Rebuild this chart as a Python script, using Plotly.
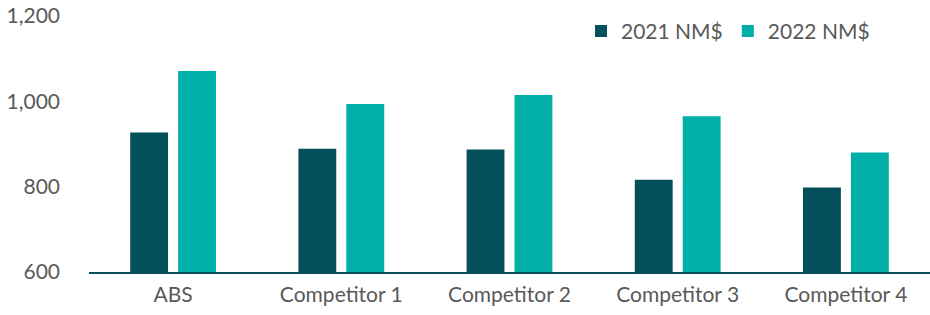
import plotly.graph_objects as go

categories = ["ABS", "Competitor 1", "Competitor 2", "Competitor 3", "Competitor 4"]
values_2021 = [927, 889, 887, 816, 798]
values_2022 = [1071, 994, 1015, 965, 880]
series_names = ["2021 NM$", "2022 NM$"]
y_ticks = [600, 800, 1000, 1200]

DARK = "#03505A"
TEAL = "#00B0A8"
GRAY = "#595959"
FONT = "Lato, Open Sans, sans-serif"
FS = 21

fig = go.Figure()
fig.add_trace(go.Bar(x=categories, y=values_2021, name=series_names[0],
                     marker=dict(color=DARK, line=dict(width=0))))
fig.add_trace(go.Bar(x=categories, y=values_2022, name=series_names[1],
                     marker=dict(color=TEAL, line=dict(width=0))))

fig.update_layout(
    width=930, height=315,
    margin=dict(l=89, r=0, t=15.5, b=43.3, pad=0),
    paper_bgcolor="white", plot_bgcolor="white",
    barmode="group", bargap=0.43, bargroupgap=0.21,
    font=dict(family=FONT, size=FS, color=GRAY),
    legend=dict(orientation="h", x=0.585, y=0.94, xanchor="left", yanchor="middle",
                font=dict(family=FONT, size=FS, color=GRAY),
                itemwidth=30, traceorder="normal", bgcolor="rgba(0,0,0,0)"),
    xaxis=dict(showgrid=False, showline=True, linecolor=DARK, linewidth=2,
               ticks="", ticklabelstandoff=3, automargin=False,
               tickfont=dict(size=FS, color=GRAY)),
    yaxis=dict(range=[600, 1200], tickvals=y_ticks, tickformat=",d",
               showgrid=False, zeroline=False, showline=False, ticks="",
               ticklabelstandoff=28, ticklabeloverflow="allow", automargin=False,
               tickfont=dict(size=FS, color=GRAY)),
)

fig.write_html("out.html", config={"displayModeBar": False},
               post_script="document.body.style.margin='0';document.body.style.overflow='hidden';")
